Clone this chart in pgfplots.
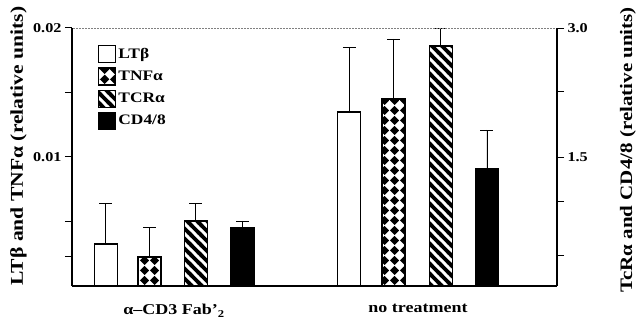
\documentclass[border=0pt]{standalone}
\usepackage{fontspec}
\setmainfont{Liberation Serif}[FakeStretch=1.2]
\usepackage{pgfplots}
\pgfplotsset{compat=1.18}
\usetikzlibrary{patterns}

\pgfdeclarepatternformonly{diamondgrid}{\pgfqpoint{0pt}{0pt}}{\pgfqpoint{10pt}{10pt}}{\pgfqpoint{10pt}{10pt}}{%
  \pgfpathmoveto{\pgfqpoint{5pt}{0pt}}%
  \pgfpathlineto{\pgfqpoint{10pt}{5pt}}%
  \pgfpathlineto{\pgfqpoint{5pt}{10pt}}%
  \pgfpathlineto{\pgfqpoint{0pt}{5pt}}%
  \pgfpathclose\pgfusepath{fill}}

\pgfdeclarepatternformonly{thickstripes}{\pgfqpoint{-1pt}{-1pt}}{\pgfqpoint{11pt}{11pt}}{\pgfqpoint{10pt}{10pt}}{%
  \pgfsetlinewidth{3.6pt}%
  \pgfpathmoveto{\pgfqpoint{-1pt}{11pt}}\pgfpathlineto{\pgfqpoint{11pt}{-1pt}}%
  \pgfpathmoveto{\pgfqpoint{-2pt}{2pt}}\pgfpathlineto{\pgfqpoint{2pt}{-2pt}}%
  \pgfpathmoveto{\pgfqpoint{8pt}{12pt}}\pgfpathlineto{\pgfqpoint{12pt}{8pt}}%
  \pgfusepath{stroke}}

\pgfplotsset{
  boxlegend/.style={legend image code/.code={\draw[##1] (0pt,-8.5pt) rectangle (17pt,8.5pt);}},
  common/.style={
    at={(72pt,38pt)}, anchor=south west, scale only axis,
    width=485pt, height=258pt,
    xmin=0.582, xmax=2.570,
    axis line style={-, line width=1.6pt},
    tick align=outside, major tick length=7pt,
    tick style={line width=1pt, black},
    scaled y ticks=false,
    yticklabel style={font=\fontsize{13.5}{15}\selectfont\bfseries},
    ybar, bar width=23pt, bar shift=0pt,
    error bars/y dir=plus, error bars/y explicit,
    error bars/error bar style={line width=0.9pt, black, solid},
    error bars/error mark options={rotate=90, mark size=6.5pt, line width=0.9pt, black},
    clip=false,
  },
}

\begin{document}
\begin{tikzpicture}[x=1pt,y=1pt]
\useasboundingbox (0,0) rectangle (637,324);

% left axis: LTbeta and TNFalpha
\begin{axis}[common,
  ymin=0, ymax=0.02,
  axis x line*=bottom, axis y line*=left,
  ytick={0.0023,0.005,0.01,0.015,0.02}, yticklabels={,,0.01,,0.02},
  xtick={1,2}, xticklabels={α–CD3 Fab’\textsubscript{2}, no treatment},
  xticklabel style={font=\fontsize{15}{17}\selectfont\bfseries, yshift=-8pt},
  x tick style={draw=none},
]
\addplot[fill=white, draw=black, line width=1.2pt] coordinates {
  (0.721,0.00326) +- (0,0.00317)
  (1.719,0.01349) +- (0,0.00504)
};
\addplot[pattern=diamondgrid, pattern color=black, draw=black, line width=1.2pt] coordinates {
  (0.900,0.00225) +- (0,0.00232)
  (1.900,0.01450) +- (0,0.00465)
};
\end{axis}

% right axis: TcRalpha and CD4/8
\begin{axis}[common,
  ymin=0, ymax=3,
  axis x line=none, axis y line*=right,
  ytick={0.349,0.977,1.5,2.256,3}, yticklabels={,,1.5,,3.0},
  legend style={at={(0.0536,0.934)}, anchor=north west, draw=none, fill=none,
    inner sep=0pt, row sep=4pt,
    font=\fontsize{14.5}{16}\selectfont\bfseries},
  legend cell align=left,
]
\addlegendimage{boxlegend, fill=white, draw=black, line width=1.2pt}
\addlegendentry{LTβ}
\addlegendimage{boxlegend, pattern=diamondgrid, pattern color=black, draw=black, line width=1.2pt}
\addlegendentry{TNFα}
\addlegendimage{boxlegend, pattern=thickstripes, pattern color=black, draw=black, line width=1.2pt}
\addlegendentry{TCRα}
\addlegendimage{boxlegend, fill=black, draw=black, line width=1.2pt}
\addlegendentry{CD4/8}
\addplot[forget plot, pattern=thickstripes, pattern color=black, draw=black, line width=1.2pt] coordinates {
  (1.090,0.756) +- (0,0.209)
  (2.093,2.790) +- (0,0.210)
};
\addplot[forget plot, fill=black, draw=black, line width=1.2pt] coordinates {
  (1.281,0.674) +- (0,0.082)
  (2.283,1.360) +- (0,0.454)
};
\end{axis}

\draw[gray, line width=0.6pt, dash pattern=on 2pt off 1pt] (73,296) -- (556,296);

\node[rotate=90, font=\fontsize{18}{20}\selectfont\bfseries] at (18.5,178) {LTβ and TNFα (relative units)};
\node[rotate=90, font=\fontsize{17.5}{19}\selectfont\bfseries] at (628,174) {TcRα and CD4/8 (relative units)};
\end{tikzpicture}
\end{document}
